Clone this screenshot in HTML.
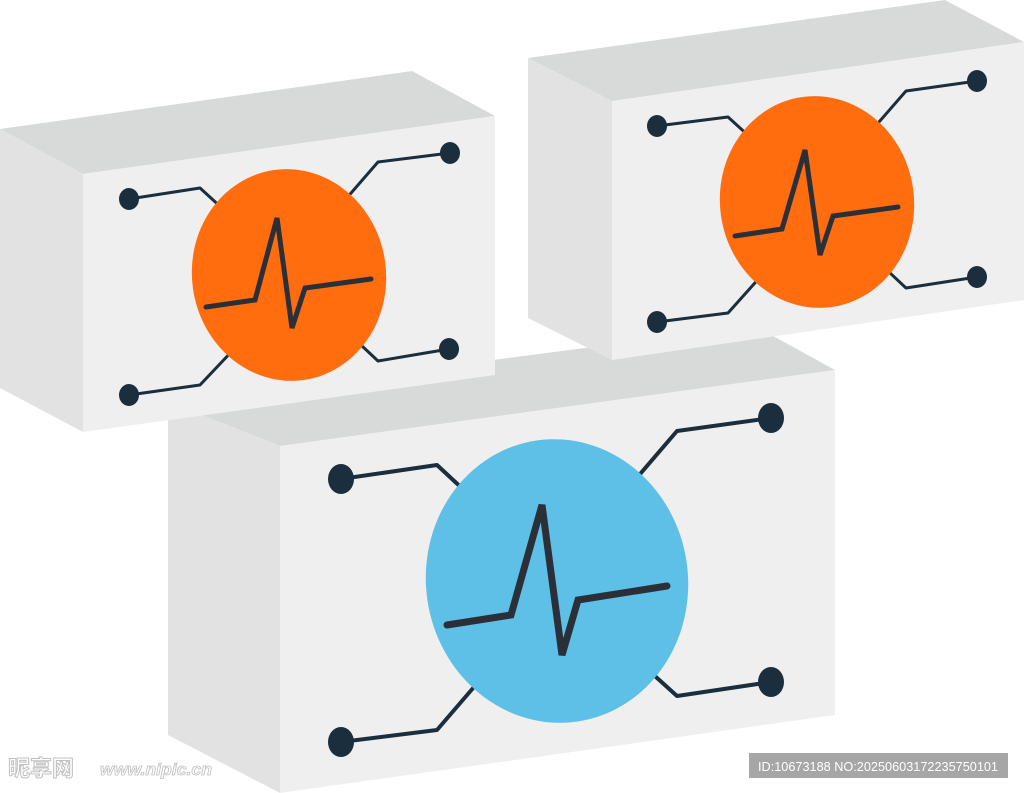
<!DOCTYPE html>
<html><head><meta charset="utf-8"><style>
html,body{margin:0;padding:0;background:#fff;width:1024px;height:793px;overflow:hidden}
svg{display:block}
</style></head><body>
<svg width="1024" height="793" viewBox="0 0 1024 793" xmlns="http://www.w3.org/2000/svg">
<g stroke-linejoin="round">
<!-- Box 3 -->
<polygon points="168,402 755,326 835,370 280,446" fill="#d8d9d9"/>
<polygon points="168,402 280,446 280,793 168,735" fill="#e2e2e3"/>
<polygon points="280,446 835,370 835,715 280,793" fill="#efefef"/>
<g fill="none" stroke="#1a2e3e" stroke-width="4">
<polyline points="341,479 437,465 480,505"/>
<polyline points="771,418 677,431 635,480"/>
<polyline points="341,742 437,730 480,680"/>
<polyline points="771,682 677,696 635,658"/>
</g>
<g fill="#1a2e3e">
<ellipse cx="341" cy="479" rx="13" ry="15"/><ellipse cx="771" cy="418" rx="13" ry="15"/>
<ellipse cx="341" cy="742" rx="13" ry="15"/><ellipse cx="771" cy="682" rx="13" ry="15"/>
</g>
<ellipse cx="557" cy="581" rx="131" ry="142" transform="rotate(-8 557 581)" fill="#5ec0e6"/>
<polyline points="447,625 511,615 542,505 562,655 578,600 667,586" fill="none" stroke="#2b3038" stroke-width="7" stroke-linecap="round" stroke-linejoin="miter"/>

<!-- Box 1 -->
<polygon points="0,129 412,71 495,116 83,174" fill="#d8d9d9"/>
<polygon points="0,129 83,174 83,432 0,388" fill="#e2e2e3"/>
<polygon points="83,174 495,116 495,375 83,432" fill="#efefef"/>
<g fill="none" stroke="#1a2e3e" stroke-width="3">
<polyline points="129,199 200,188 235,220"/>
<polyline points="450,153 378,162 345,200"/>
<polyline points="129,395 200,385 235,348"/>
<polyline points="449,349 378,361 345,330"/>
</g>
<g fill="#1a2e3e">
<ellipse cx="129" cy="199" rx="10" ry="11"/><ellipse cx="450" cy="153" rx="10" ry="11"/>
<ellipse cx="129" cy="395" rx="10" ry="11"/><ellipse cx="449" cy="349" rx="10" ry="11"/>
</g>
<ellipse cx="289" cy="275" rx="97" ry="106" transform="rotate(-8 289 275)" fill="#ff6d0e"/>
<polyline points="206,307 255,300 277,218 292,328 305,288 371,279" fill="none" stroke="#2b3038" stroke-width="5" stroke-linecap="round" stroke-linejoin="miter"/>

<!-- Box 2 -->
<polygon points="528,58 945,0 1024,42 612,101" fill="#d8d9d9"/>
<polygon points="528,58 612,101 612,360 528,318" fill="#e2e2e3"/>
<polygon points="612,101 1024,42 1024,300 612,360" fill="#efefef"/>
<g fill="none" stroke="#1a2e3e" stroke-width="3">
<polyline points="657,126 728,117 762,148"/>
<polyline points="977,81 906,91 872,130"/>
<polyline points="657,322 728,313 762,275"/>
<polyline points="977,277 906,288 872,256"/>
</g>
<g fill="#1a2e3e">
<ellipse cx="657" cy="126" rx="10" ry="11"/><ellipse cx="977" cy="81" rx="10" ry="11"/>
<ellipse cx="657" cy="322" rx="10" ry="11"/><ellipse cx="977" cy="277" rx="10" ry="11"/>
</g>
<ellipse cx="817" cy="202" rx="97" ry="106" transform="rotate(-8 817 202)" fill="#ff6d0e"/>
<polyline points="735,236 782,229 805,150 820,255 833,216 898,207" fill="none" stroke="#2b3038" stroke-width="5" stroke-linecap="round" stroke-linejoin="miter"/>
</g>
<!-- watermarks -->
<text x="8" y="776" font-family="'Liberation Sans','Noto Sans CJK SC',sans-serif" font-size="22" font-weight="bold" fill="#fff" stroke="#c0c0c0" stroke-width="1">昵享网</text>
<text x="100" y="775" font-family="'Liberation Sans',sans-serif" font-size="17" font-style="italic" font-weight="bold" fill="#fff" stroke="#c0c0c0" stroke-width="0.8" textLength="112" lengthAdjust="spacingAndGlyphs">www.nipic.cn</text>
<rect x="749" y="753" width="259" height="25" fill="#a6a6a6"/>
<text x="878" y="771" text-anchor="middle" font-family="'Liberation Sans',sans-serif" font-size="13" fill="#fff" textLength="240" lengthAdjust="spacingAndGlyphs">ID:10673188 NO:20250603172235750101</text>
</svg>
</body></html>
